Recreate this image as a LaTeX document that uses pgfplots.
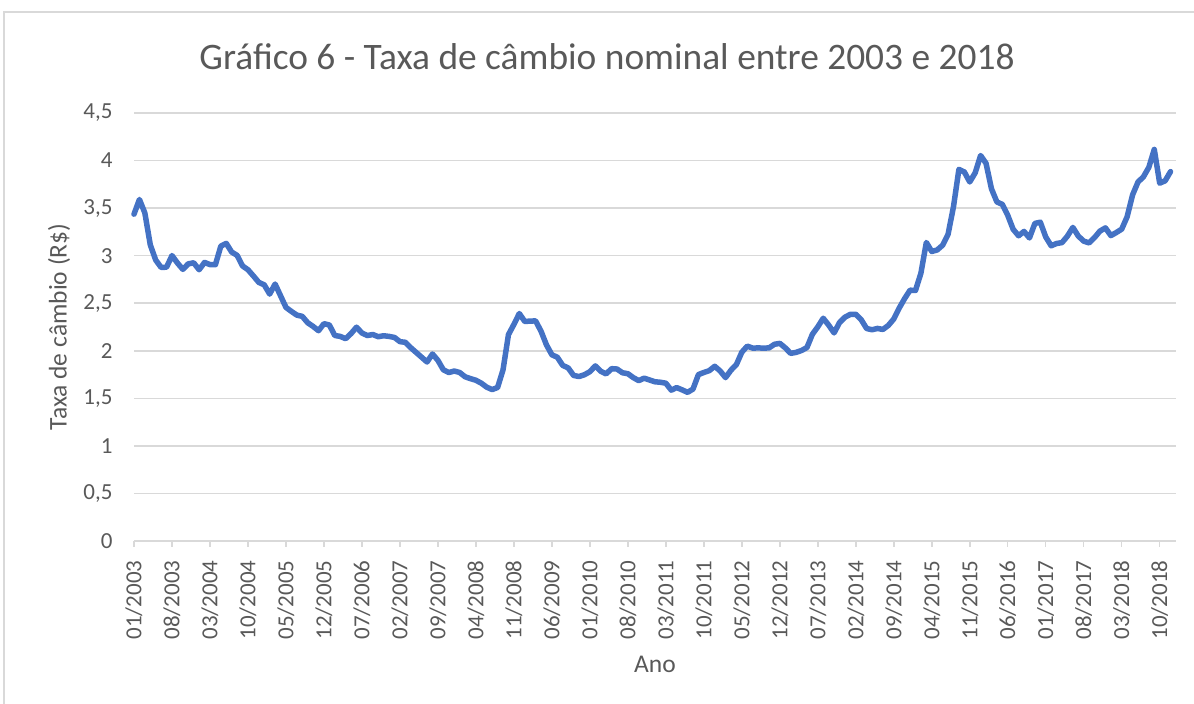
\documentclass[border=0pt]{standalone}
\usepackage{pgfplots}
\pgfplotsset{compat=1.18}
\usepackage{pgfplotstable}
\usepackage{fontspec}
\setmainfont{Carlito}
\definecolor{txt}{HTML}{595959}
\definecolor{gridc}{HTML}{D9D9D9}
\definecolor{linec}{HTML}{4472C4}
\pgfplotstableread{
y
3.436
3.591
3.449
3.114
2.954
2.876
2.879
3.001
2.923
2.856
2.914
2.925
2.852
2.929
2.906
2.905
3.100
3.129
3.038
3.003
2.892
2.852
2.787
2.719
2.693
2.596
2.702
2.579
2.456
2.414
2.375
2.362
2.295
2.256
2.211
2.285
2.271
2.161
2.151
2.127
2.181
2.248
2.187
2.160
2.171
2.148
2.158
2.151
2.140
2.096
2.089
2.032
1.982
1.932
1.882
1.966
1.899
1.800
1.771
1.787
1.772
1.727
1.707
1.690
1.659
1.617
1.592
1.614
1.800
2.170
2.277
2.392
2.308
2.312
2.314
2.206
2.062
1.958
1.932
1.846
1.820
1.741
1.729
1.748
1.780
1.841
1.785
1.757
1.812
1.808
1.769
1.759
1.718
1.686
1.712
1.693
1.674
1.669
1.659
1.586
1.613
1.589
1.563
1.597
1.749
1.772
1.791
1.837
1.788
1.718
1.796
1.855
1.985
2.049
2.028
2.030
2.028
2.030
2.068
2.078
2.031
1.973
1.983
2.003
2.034
2.173
2.252
2.342
2.270
2.188
2.296
2.353
2.383
2.384
2.326
2.234
2.221
2.235
2.224
2.267
2.334
2.449
2.549
2.637
2.634
2.816
3.139
3.044
3.060
3.110
3.224
3.514
3.907
3.880
3.775
3.871
4.053
3.971
3.703
3.565
3.539
3.424
3.277
3.209
3.255
3.186
3.339
3.352
3.197
3.104
3.128
3.137
3.206
3.297
3.206
3.153
3.134
3.191
3.259
3.292
3.211
3.243
3.279
3.409
3.639
3.774
3.829
3.929
4.117
3.762
3.787
3.884
}\rate
\begin{document}
\begin{tikzpicture}
\useasboundingbox (0pt,0pt) rectangle (1194pt,704pt);
\draw[gridc, line width=1.5pt] (4pt,0pt) -- (4pt,692pt) -- (1194pt,692pt);
\node[txt, font=\fontsize{37.4}{40}\selectfont] at (607pt,647pt) {Gráfico 6 - Taxa de câmbio nominal entre 2003 e 2018};
\begin{axis}[
  at={(134pt,163pt)}, anchor=south west,
  scale only axis, width=1042pt, height=428pt,
  xmin=0, xmax=192, ymin=0, ymax=4.5,
  ytick={0,0.5,1,1.5,2,2.5,3,3.5,4,4.5},
  xtick={0,7,...,189},
  xticklabels={01/2003,08/2003,03/2004,10/2004,05/2005,12/2005,07/2006,02/2007,09/2007,04/2008,11/2008,06/2009,01/2010,08/2010,03/2011,10/2011,05/2012,12/2012,07/2013,02/2014,09/2014,04/2015,11/2015,06/2016,01/2017,08/2017,03/2018,10/2018},
  xtick pos=left,
  axis line style={draw=none},
  ymajorgrids, grid style={gridc, line width=1.5pt},
  tick align=outside, major tick length=6pt,
  xtick style={gridc, line width=1.5pt},
  ytick style={draw=none},
  /pgf/number format/assume math mode=true,
  /pgf/number format/use comma,
  xticklabel shift=10pt,
  x tick label style={rotate=90, anchor=east, txt, font=\fontsize{23}{23}\selectfont},
  y tick label style={txt, font=\fontsize{23}{23}\selectfont, xshift=-12pt},
  ylabel={Taxa de câmbio (R\$)},
  xlabel={Ano},
  label style={txt, font=\fontsize{25.5}{26}\selectfont},
  ylabel style={at={(axis description cs:0,0.5)}, rotate=0, yshift=75pt, anchor=center},
  xlabel style={at={(axis description cs:0.5,0)}, yshift=-123pt, anchor=center},
  clip=false,
]
\addplot[linec, line width=5.5pt, line join=round, line cap=round] table[x expr=\coordindex, y=y] {\rate};
\end{axis}
\end{tikzpicture}
\end{document}
